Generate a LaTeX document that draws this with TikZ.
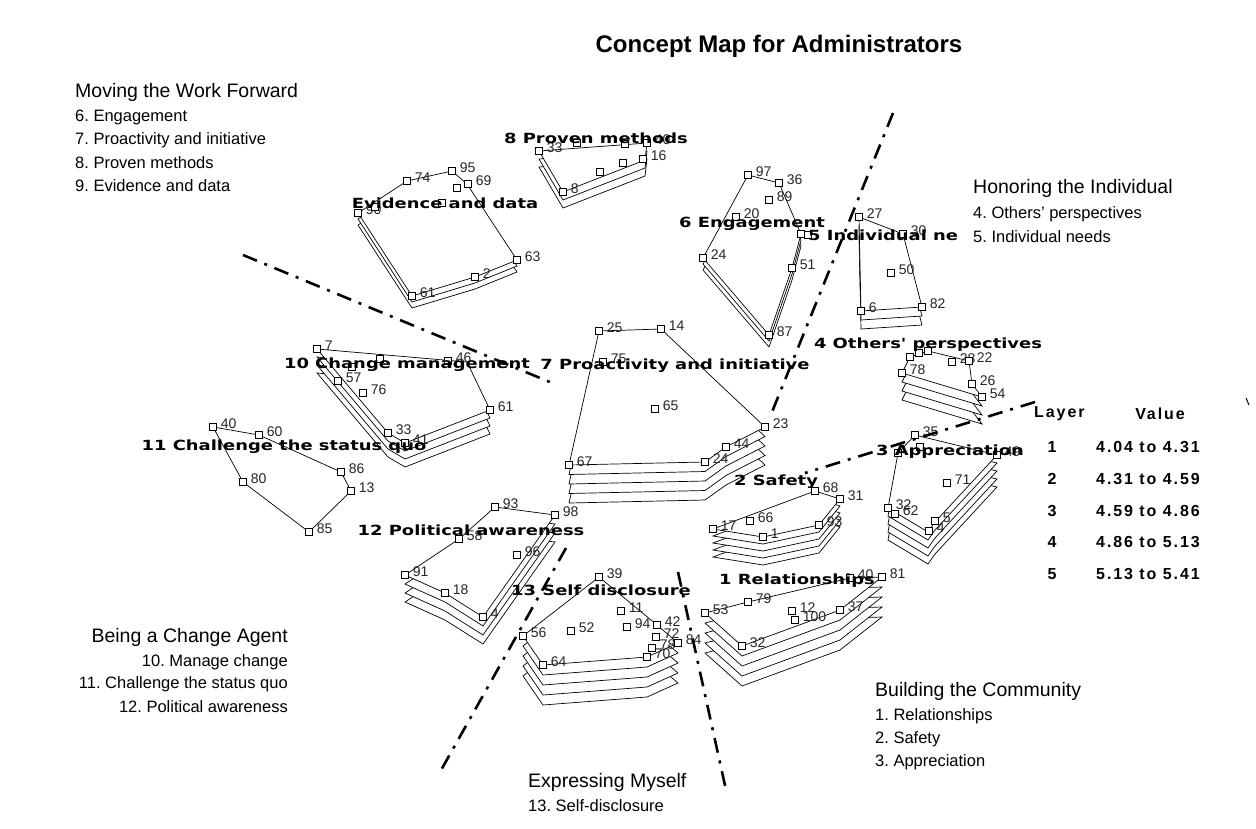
\documentclass[tikz,border=0pt]{standalone}
\usepackage{fontspec}
\setmainfont{Liberation Sans}
\newfontfamily\clusterfam[FakeStretch=1.28]{DejaVu Sans}
\newfontfamily\legendfam[LetterSpace=12]{Liberation Sans}
\frenchspacing

% one statement: white square marker with its number to the upper right
\newcommand\stmt[4]{%
  \node[sq] (s#1-#2) at (#3,#4) {};
  \node[num] (n#1-#2) at ([xshift=4pt,yshift=3pt]s#1-#2.east) {#2};}
% a marker whose number is hidden
\newcommand\blank[4]{\node[sq] (s#1-#2) at (#3,#4) {};}
% stacked cluster outline: #1 list of layer indices (deepest first), #2 layer step
\newcommand\stack[3]{\foreach \k in {#1}{\draw[layer,yshift={-\k*#2}] #3 -- cycle;}}

\begin{document}
\begin{tikzpicture}[x=1pt,y=-1pt,
  layer/.style={draw=black,fill=white,line width=0.7pt},
  sq/.style={draw=black,fill=white,line width=0.7pt,minimum size=6.5pt,inner sep=0pt},
  num/.style={font=\fontsize{14}{16}\selectfont,inner sep=0pt,anchor=west,text=black!85},
  clab/.style={font=\clusterfam\bfseries\fontsize{14}{16}\selectfont,inner sep=0pt},
  axis/.style={line width=2.6pt,dash pattern=on 15pt off 8pt on 3pt off 8pt},
  head/.style={font=\fontsize{19.5}{22}\selectfont,inner sep=0pt},
  item/.style={font=\fontsize{16.5}{19}\selectfont,inner sep=0pt},
  leg/.style={font=\legendfam\bfseries\fontsize{16}{18}\selectfont,inner sep=0pt}]

\fill[white] (0,0) rectangle (1256,828);
\useasboundingbox (0,0) rectangle (1256,828);

% ---- cluster 8: proven methods
\stack{2,1,0}{8}{(539,151) -- (647,143) -- (645,160) -- (563,192)}
\stmt{8}{33}{539}{151}
\blank{8}{a}{577}{143}
\blank{8}{b}{625}{144}
\stmt{8}{40}{647}{143}
\stmt{8}{16}{643}{159}
\blank{8}{c}{623}{163}
\blank{8}{d}{600}{172}
\stmt{8}{8}{563}{192}

% ---- cluster 9: evidence and data
\stack{2,1,0}{6}{(358,213) -- (407,181) -- (452,171) -- (467,184) -- (517,260) -- (475,277) -- (412,296)}
\stmt{9}{90}{358}{213}
\stmt{9}{74}{407}{181}
\stmt{9}{95}{452}{171}
\blank{9}{a}{457}{188}
\stmt{9}{69}{468}{184}
\blank{9}{b}{442}{203}
\blank{9}{c}{375}{207}
\stmt{9}{63}{517}{260}
\stmt{9}{2}{475}{277}
\stmt{9}{61}{412}{296}

% ---- cluster 6: engagement
\stack{2,1,0}{6}{(748,175) -- (779,183) -- (801,234) -- (792,268) -- (769,335) -- (703,258)}
\stmt{6}{97}{748}{175}
\stmt{6}{36}{779}{183}
\stmt{6}{89}{769}{200}
\stmt{6}{20}{736}{217}
\blank{6}{a}{801}{234}
\blank{6}{b}{808}{235}
\stmt{6}{51}{792}{268}
\stmt{6}{87}{769}{335}
\stmt{6}{24}{703}{258}

% ---- cluster 5: individual needs
\stack{2,1,0}{9}{(859,217) -- (903,234) -- (922,307) -- (861,311)}
\stmt{5}{27}{859}{217}
\stmt{5}{30}{903}{234}
\stmt{5}{50}{891}{273}
\stmt{5}{82}{922}{307}
\stmt{5}{6}{861}{311}

% ---- cluster 4: others' perspectives
\stack{3,2,1,0}{9}{(902,373) -- (910,357) -- (928,351) -- (969,361) -- (972,384) -- (982,397)}
\stmt{4}{78}{902}{373}
\blank{4}{a}{910}{357}
\blank{4}{b}{919}{353}
\blank{4}{c}{928}{351}
\stmt{4}{28}{952}{362}
\stmt{4}{22}{969}{361}
\stmt{4}{26}{972}{384}
\stmt{4}{54}{982}{397}

% ---- cluster 3: appreciation
\stack{4,3,2,1,0}{8}{(898,453) -- (915,435) -- (997,455) -- (935,522) -- (928,532) -- (888,508)}
\stmt{3}{35}{915}{435}
\blank{3}{a}{920}{447}
\blank{3}{b}{898}{453}
\stmt{3}{49}{997}{455}
\stmt{3}{71}{947}{483}
\stmt{3}{32}{888}{508}
\stmt{3}{62}{895}{514}
\stmt{3}{5}{935}{521}
\stmt{3}{4}{929}{531}

% ---- cluster 2: safety
\stack{4,3,2,1,0}{7}{(713,529) -- (815,491) -- (840,499) -- (819,525) -- (763,537)}
\stmt{2}{68}{815}{491}
\stmt{2}{31}{840}{499}
\stmt{2}{66}{750}{521}
\stmt{2}{17}{713}{529}
\stmt{2}{1}{763}{537}
\stmt{2}{93}{819}{525}

% ---- cluster 1: relationships
\stack{4,3,2,1,0}{10}{(705,613) -- (748,602) -- (850,578) -- (882,577) -- (840,610) -- (742,646)}
\stmt{1}{53}{705}{613}
\stmt{1}{79}{748}{602}
\stmt{1}{40}{850}{578}
\stmt{1}{81}{882}{577}
\stmt{1}{12}{792}{611}
\stmt{1}{100}{795}{620}
\stmt{1}{37}{840}{610}
\stmt{1}{32}{742}{646}

% ---- cluster 13: self disclosure
\stack{4,3,2,1,0}{10}{(523,636) -- (599,577) -- (657,625) -- (678,643) -- (647,657) -- (543,665)}
\stmt{13}{39}{599}{577}
\stmt{13}{11}{621}{611}
\stmt{13}{56}{523}{636}
\stmt{13}{52}{571}{631}
\stmt{13}{94}{627}{627}
\stmt{13}{42}{657}{625}
\stmt{13}{72}{656}{637}
\stmt{13}{78}{652}{648}
\stmt{13}{70}{647}{657}
\stmt{13}{64}{543}{665}
\stmt{13}{84}{678}{643}

% ---- cluster 12: political awareness
\stack{3,2,1,0}{9}{(405,575) -- (459,539) -- (495,507) -- (555,515) -- (483,617) -- (445,593)}
\stmt{12}{93}{495}{507}
\stmt{12}{98}{555}{515}
\stmt{12}{58}{459}{539}
\stmt{12}{96}{517}{555}
\stmt{12}{91}{405}{575}
\stmt{12}{18}{445}{593}
\stmt{12}{4}{483}{617}

% ---- cluster 11: challenge the status quo
\stack{0}{0}{(213,427) -- (259,435) -- (341,472) -- (351,491) -- (309,532) -- (243,482)}
\stmt{11}{40}{213}{427}
\stmt{11}{60}{259}{435}
\stmt{11}{86}{341}{472}
\stmt{11}{13}{351}{491}
\stmt{11}{85}{309}{532}
\stmt{11}{80}{243}{482}

% ---- cluster 10: change management
\stack{3,2,1,0}{8}{(317,349) -- (467,362) -- (490,410) -- (405,443) -- (388,433)}
\stmt{10}{7}{317}{349}
\blank{10}{a}{352}{367}
\blank{10}{b}{380}{359}
\stmt{10}{46}{448}{361}
\stmt{10}{57}{338}{381}
\stmt{10}{76}{363}{393}
\stmt{10}{33}{388}{433}
\stmt{10}{41}{405}{443}
\stmt{10}{61}{490}{410}

% ---- cluster 7: proactivity and initiative
\stack{4,3,2,1,0}{9.5}{(599,331) -- (661,329) -- (765,427) -- (726,447) -- (705,462) -- (569,465)}
\stmt{7}{25}{599}{331}
\stmt{7}{14}{661}{329}
\stmt{7}{75}{603}{362}
\stmt{7}{65}{655}{409}
\stmt{7}{23}{765}{427}
\stmt{7}{44}{726}{447}
\stmt{7}{24}{705}{462}
\stmt{7}{67}{569}{465}

% ---- cluster labels
\node[clab] (l8) at (596,138) {8 Proven methods};
\node[clab] (l9) at (445,203) {Evidence and data};
\node[clab] (l6) at (752,224) {6 Engagement};
\node[clab,anchor=west] (l5) at (808,235) {5 Individual needs};
\node[clab] (l4) at (928,345) {4 Others' perspectives};
\node[clab] (l3) at (950,452) {3 Appreciation};
\node[clab] (l2) at (776,482) {2 Safety};
\node[clab] (l1) at (797,581) {1 Relationships};
\node[clab] (l13) at (601,590) {13 Self disclosure};
\node[clab] (l12) at (471,530) {12 Political awareness};
\node[clab] (l11) at (284,447) {11 Challenge the status quo};
\node[clab] (l10) at (407,365) {10 Change management};
\node[clab] (l7) at (675,366) {7 Proactivity and initiative};

% ---- dividing axes
\coordinate (a1s) at (243,255); \coordinate (a1e) at (557,385);
\coordinate (a2s) at (893,113); \coordinate (a2e) at (772,412);
\coordinate (a3s) at (1035,402); \coordinate (a3e) at (805,473);
\coordinate (a4s) at (566,548); \coordinate (a4e) at (440,772);
\coordinate (a5s) at (678,572); \coordinate (a5e) at (726,790);
\coordinate (a6s) at (1246,398); \coordinate (a6e) at (1249,405);
\draw[axis] (a1s) -- (a1e);
\draw[axis] (a2s) -- (a2e);
\draw[axis] (a3s) -- (a3e);
\draw[axis] (a4s) -- (a4e);
\draw[axis] (a5s) -- (a5e);
\draw[line width=1pt] (a6s) -- (a6e);

% ---- title and region texts
\node[font=\bfseries\fontsize{24}{28}\selectfont,inner sep=0pt] (title) at (779,46) {Concept Map for Administrators};

\node[head,anchor=west] (hmove) at (75,92) {Moving the Work Forward};
\node[item,anchor=west] (m6) at (75,117) {6. Engagement};
\node[item,anchor=west] (m7) at (75,140) {7. Proactivity and initiative};
\node[item,anchor=west] (m8) at (75,163) {8. Proven methods};
\node[item,anchor=west] (m9) at (75,186) {9. Evidence and data};

\fill[white] (957,172) rectangle (1180,250);
\node[head,anchor=west] (hhonor) at (973,188) {Honoring the Individual};
\node[item,anchor=west] (o4) at (973,214) {4. Others’ perspectives};
\node[item,anchor=west] (o5) at (973,237) {5. Individual needs};

\node[head,anchor=east] (hagent) at (288,637) {Being a Change Agent};
\node[item,anchor=east] (g10) at (288,662) {10. Manage change};
\node[item,anchor=east] (g11) at (288,684) {11. Challenge the status quo};
\node[item,anchor=east] (g12) at (288,707) {12. Political awareness};

\node[head,anchor=west] (hbuild) at (875,691) {Building the Community};
\node[item,anchor=west] (b1) at (875,716) {1. Relationships};
\node[item,anchor=west] (b2) at (875,739) {2. Safety};
\node[item,anchor=west] (b3) at (875,762) {3. Appreciation};

\node[head,anchor=west] (hexpr) at (528,782) {Expressing Myself};
\node[item,anchor=west] (e13) at (528,806) {13. Self-disclosure};

% ---- legend
\node[leg,anchor=west] (layerhd) at (1034,414) {Layer};
\node[leg] (valuehd) at (1160,414) {Value};
\foreach \r/\v/\yy in {1/4.04 to 4.31/446.7, 2/4.31 to 4.59/479, 3/4.59 to 4.86/510.5, 4/4.86 to 5.13/542.3, 5/5.13 to 5.41/574}{
  \node[leg] (lay\r) at (1052,\yy) {\r};
  \node[leg,anchor=west] (val\r) at (1096,\yy) {\v};
}
\end{tikzpicture}
\end{document}
